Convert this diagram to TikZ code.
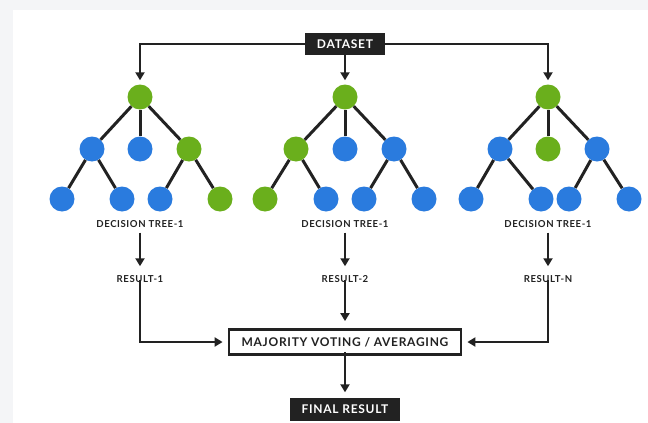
\documentclass[tikz,border=0pt]{standalone}
\usepackage{fontspec}
\setmainfont{Lato}
\newfontfamily\capsfont{Lato}[LetterSpace=6]
\usetikzlibrary{arrows.meta}
\definecolor{tblue}{HTML}{2A7BDE}
\definecolor{tgreen}{HTML}{6AAF1C}
\definecolor{dark}{HTML}{222222}
\definecolor{outer}{HTML}{F4F5F7}
\tikzset{
  bnode/.style={circle,fill=tblue,minimum size=25pt,inner sep=0pt},
  gnode/.style={circle,fill=tgreen,minimum size=25pt,inner sep=0pt},
  edge/.style={draw=dark,line width=3pt},
  arr/.style={draw=dark,line width=2.6pt,-{Triangle[length=8pt,width=9pt]}},
  lbl/.style={font=\capsfont\bfseries\fontsize{9.6}{11}\selectfont,text=dark,inner sep=2pt},
  darkbox/.style={fill=dark,text=white,font=\capsfont\bfseries\fontsize{12}{14}\selectfont,minimum height=22pt,inner xsep=9pt},
  votebox/.style={draw=dark,line width=2.8pt,fill=white,text=dark,font=\capsfont\bfseries\fontsize{12}{14}\selectfont,minimum height=25pt,minimum width=232pt}
}
\begin{document}
\begin{tikzpicture}[x=1pt,y=-1pt]
\useasboundingbox (0,0) rectangle (648,423);
\fill[outer] (0,0) rectangle (648,423);
\fill[white] (13,10) rectangle (648,423);
% dataset
\node[darkbox,minimum width=80pt] (ds) at (345,44) {DATASET};
% tree 1
\node[gnode] (a0) at (140,97) {};
\node[bnode] (a1) at (92,149) {};
\node[bnode] (a2) at (140,149) {};
\node[gnode] (a3) at (189,149) {};
\node[bnode] (a4) at (62,199) {};
\node[bnode] (a5) at (122,199) {};
\node[bnode] (a6) at (160,199) {};
\node[gnode] (a7) at (220,199) {};
% tree 2
\node[gnode] (b0) at (345,97) {};
\node[gnode] (b1) at (296,149) {};
\node[bnode] (b2) at (345,149) {};
\node[bnode] (b3) at (394,149) {};
\node[gnode] (b4) at (265,199) {};
\node[bnode] (b5) at (326,199) {};
\node[bnode] (b6) at (364,199) {};
\node[bnode] (b7) at (424,199) {};
% tree 3
\node[gnode] (c0) at (548,97) {};
\node[bnode] (c1) at (500,149) {};
\node[gnode] (c2) at (548,149) {};
\node[bnode] (c3) at (597,149) {};
\node[bnode] (c4) at (471,199) {};
\node[bnode] (c5) at (541,199) {};
\node[bnode] (c6) at (569,199) {};
\node[bnode] (c7) at (629,199) {};
% tree edges
\foreach \t in {a,b,c}{
  \draw[edge] (\t0) -- (\t1);
  \draw[edge] (\t0) -- (\t2);
  \draw[edge] (\t0) -- (\t3);
  \draw[edge] (\t1) -- (\t4);
  \draw[edge] (\t1) -- (\t5);
  \draw[edge] (\t3) -- (\t6);
  \draw[edge] (\t3) -- (\t7);
}
% dataset arrows
\draw[arr,shorten >=4pt] (ds.west) -| (a0.north);
\draw[arr,shorten >=4pt] (ds.east) -| (c0.north);
\draw[arr,shorten >=4pt] (ds.south) -- (b0.north);
% labels
\node[lbl] (ta) at (140,224) {DECISION TREE-1};
\node[lbl] (tb) at (345,224) {DECISION TREE-1};
\node[lbl] (tc) at (548,224) {DECISION TREE-1};
\node[lbl] (ra) at (140,279) {RESULT-1};
\node[lbl] (rb) at (345,279) {RESULT-2};
\node[lbl] (rc) at (548,279) {RESULT-N};
\draw[arr,shorten <=3pt,shorten >=7pt] (ta.south) -- (ra.north);
\draw[arr,shorten <=3pt,shorten >=7pt] (tb.south) -- (rb.north);
\draw[arr,shorten <=3pt,shorten >=7pt] (tc.south) -- (rc.north);
% vote box
\node[votebox] (vote) at (345,342) {MAJORITY VOTING / AVERAGING};
\draw[arr,shorten >=5pt] ([yshift=5pt]ra.south) |- (vote.west);
\draw[arr,shorten >=5pt] ([yshift=5pt]rc.south) |- (vote.east);
\draw[arr,shorten >=7pt] ([yshift=5pt]rb.south) -- (vote.north);
% final
\node[darkbox,minimum width=110pt,minimum height=23pt] (fin) at (345,409) {FINAL RESULT};
\draw[arr,shorten >=5pt] ([yshift=4pt]vote.south) -- (fin.north);
\end{tikzpicture}
\end{document}
